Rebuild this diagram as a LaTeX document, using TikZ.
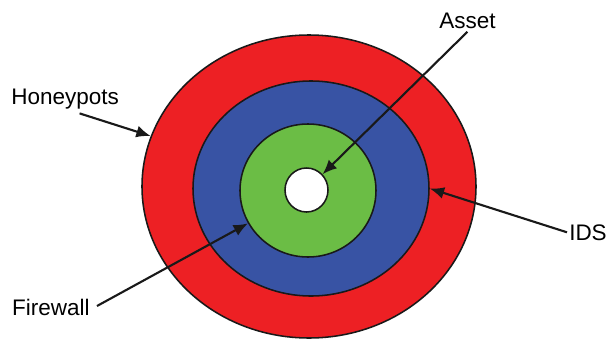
\documentclass[tikz,border=0pt]{standalone}
\usepackage{fontspec}
\setmainfont{Liberation Sans}
\usetikzlibrary{shapes.geometric, arrows.meta}

\definecolor{ringred}{RGB}{237,32,36}
\definecolor{ringblue}{RGB}{56,83,164}
\definecolor{ringgreen}{RGB}{107,189,69}

\begin{document}
\begin{tikzpicture}[
        % Rings: plain ellipses with a thin dark border
        ring/.style={ellipse, draw=black!90, line width=1.1pt, inner sep=0pt},
        % Pointer arrows with filled tips
        arrow/.style={-{Latex[length=3.6mm, width=3mm]}, line width=1.5pt, draw=black!90},
        % Ring names
        tag/.style={font=\fontsize{16}{19}\selectfont, inner sep=1pt, anchor=base}
    ]
    \useasboundingbox (0,0) rectangle (15.175,8.475);

    % --- Rings, from the outside in ---
    \node[ring, fill=ringred, minimum width=8.35cm, minimum height=7.575cm] (honeyring) at (7.725,3.8125) {};
    \node[ring, fill=ringblue, minimum width=5.9cm, minimum height=5.375cm] (idsring) at (7.775,3.7625) {};
    \node[ring, fill=ringgreen, minimum width=3.4cm, minimum height=3.325cm] (fwring) at (7.7,3.7125) {};
    \node[ring, fill=white, minimum width=1.075cm, minimum height=1.1cm] (core) at (7.6625,3.725) {};

    % --- Names ---
    \node[tag] (honeypots) at (1.63,5.875) {Honeypots};
    \node[tag] (asset) at (11.69,7.775) {Asset};
    \node[tag] (ids) at (14.7,2.4575) {IDS};
    \node[tag] (firewall) at (1.27,0.6) {Firewall};

    % Tails of the arrows, just off each name
    \coordinate (honeypots tail) at (1.99,5.64);
    \coordinate (asset tail) at (11.685,7.68);
    \coordinate (ids tail) at (14.175,2.6675);
    \coordinate (firewall tail) at (2.425,0.825);

    % --- Arrows ---
    \draw[arrow] (honeypots tail) -- (honeyring);
    \draw[arrow] (asset tail) -- (core);
    \draw[arrow] (ids tail) -- (idsring.east);
    \draw[arrow] (firewall tail) -- (fwring);

\end{tikzpicture}
\end{document}
